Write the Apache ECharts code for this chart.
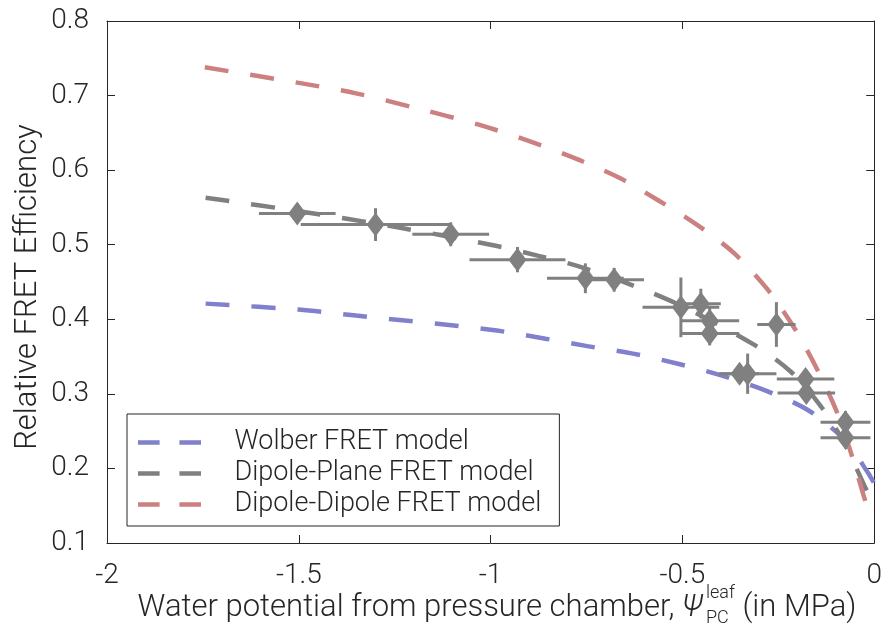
<!DOCTYPE html>
<html>
<head>
<meta charset="utf-8">
<script src="https://cdn.jsdelivr.net/npm/echarts@6/dist/echarts.min.js"></script>
<style>
  html, body { margin: 0; padding: 0; background: #fff; }
  #chart { width: 885px; height: 631px; }
</style>
</head>
<body>
<div id="chart"></div>
<script>
// model curves
const wolberX = [-1.743, -1.5, -1.351, -1.0, -0.857, -0.748, -0.629, -0.509, -0.395, -0.281, -0.169, -0.075, -0.016, 0];
const wolberY = [0.421, 0.413, 0.405, 0.386, 0.374, 0.364, 0.354, 0.340, 0.324, 0.304, 0.277, 0.237, 0.194, 0.180];

const planeX = [-1.743, -1.5, -1.25, -1.0, -0.875, -0.758, -0.532, -0.317, -0.218, -0.14, -0.08, -0.023, -0.005];
const planeY = [0.563, 0.545, 0.524, 0.500, 0.485, 0.469, 0.425, 0.367, 0.330, 0.284, 0.236, 0.174, 0.155];

const dipoleX = [-1.745, -1.5, -1.351, -1.2, -1.031, -0.888, -0.771, -0.662, -0.558, -0.457, -0.364, -0.278, -0.208, -0.148, -0.096, -0.057, -0.023, -0.010];
const dipoleY = [0.738, 0.717, 0.703, 0.684, 0.661, 0.637, 0.614, 0.589, 0.558, 0.525, 0.488, 0.440, 0.388, 0.332, 0.274, 0.215, 0.156, 0.139];

// measured points with error bars
const ptX    = [-1.504, -1.30, -1.104, -0.930, -0.753, -0.678, -0.504, -0.452, -0.429, -0.429, -0.255, -0.351, -0.330, -0.179, -0.177, -0.075, -0.075];
const ptY    = [0.542, 0.527, 0.514, 0.480, 0.455, 0.453, 0.416, 0.421, 0.398, 0.381, 0.393, 0.327, 0.327, 0.320, 0.301, 0.262, 0.241];
const ptXErr = [0.10, 0.195, 0.10, 0.125, 0.10, 0.078, 0.10, 0.052, 0.077, 0.077, 0.05, 0.05, 0.075, 0.075, 0.075, 0.065, 0.065];
const ptYErr = [0.012, 0.022, 0.016, 0.017, 0.020, 0.016, 0.040, 0.020, 0.020, 0.016, 0.030, 0.010, 0.027, 0.013, 0.010, 0.015, 0.012];

const seriesNames = ['Wolber FRET model', 'Dipole-Plane FRET model', 'Dipole-Dipole FRET model'];
const xTickLabels = ['-2', '-1.5', '-1', '-0.5', '0'];
const yTickLabels = ['0.1', '0.2', '0.3', '0.4', '0.5', '0.6', '0.7', '0.8'];

const FONT = 'Roboto';
const TXT = '#262626';
const AX = '#262626';

const chart = echarts.init(document.getElementById('chart'));

const zip = (xs, ys) => xs.map((x, i) => [x, ys[i]]);

// measure text for the x title pieces
const ctx = document.createElement('canvas').getContext('2d');
function measure(str, size, style) {
  ctx.font = (style || '') + ' 300 ' + size + 'px ' + FONT;
  return ctx.measureText(str).width;
}
const t1 = 'Water potential from pressure chamber, ';
const t3 = ' (in MPa)';
const mainSize = 31, smallSize = 18;
const w1 = measure(t1, mainSize);
const wPsi = measure('\u03A8', mainSize, 'italic');
const wSmall = Math.max(measure('leaf', smallSize), measure('PC', smallSize));
const w3 = measure(t3, mainSize);
const total = w1 + wPsi + 3 + wSmall + w3;
const x0 = 497 - total / 2;
const titleY = 608;

const lineSeries = (name, xs, ys, color) => ({
  name: name,
  type: 'line',
  data: zip(xs, ys),
  symbol: 'none',
  smooth: 0.3,
  lineStyle: { color: color, width: 4.5, type: [24, 22] },
  itemStyle: { color: color },
  z: 2
});

const txt = (text, x, y, size, extra, rotation) => ({
  type: 'text', x: x, y: y, rotation: rotation || 0,
  style: Object.assign({ text: text, fontSize: size, fontFamily: FONT, fontWeight: 300, fill: TXT, align: 'left', verticalAlign: 'middle' }, extra || {})
});

const option = {
  animation: false,
  grid: { left: 107, right: 10, top: 21, bottom: 88 },
  xAxis: [{
    type: 'value', min: -2, max: 0, interval: 0.5, position: 'bottom',
    axisLine: { show: true, onZero: false, lineStyle: { color: AX, width: 1 } },
    axisTick: { show: true, inside: true, length: 8, lineStyle: { color: AX } },
    axisLabel: {
      fontSize: 28, fontFamily: FONT, fontWeight: 300, color: TXT, margin: 19,
      formatter: v => xTickLabels[Math.round((v + 2) / 0.5)]
    },
    splitLine: { show: false }
  }, {
    type: 'value', min: -2, max: 0, interval: 0.5, position: 'top',
    axisLine: { show: true, onZero: false, lineStyle: { color: AX, width: 1 } },
    axisTick: { show: true, inside: true, length: 8, lineStyle: { color: AX } },
    axisLabel: { show: false },
    splitLine: { show: false }
  }],
  yAxis: [{
    type: 'value', min: 0.1, max: 0.8, interval: 0.1, position: 'left',
    axisLine: { show: true, onZero: false, lineStyle: { color: AX, width: 1 } },
    axisTick: { show: true, inside: true, length: 8, lineStyle: { color: AX } },
    axisLabel: {
      fontSize: 28, fontFamily: FONT, fontWeight: 300, color: TXT, margin: 18,
      formatter: v => yTickLabels[Math.round((v - 0.1) / 0.1)]
    },
    splitLine: { show: false }
  }, {
    type: 'value', min: 0.1, max: 0.8, interval: 0.1, position: 'right',
    axisLine: { show: true, onZero: false, lineStyle: { color: AX, width: 1 } },
    axisTick: { show: true, inside: true, length: 8, lineStyle: { color: AX } },
    axisLabel: { show: false },
    splitLine: { show: false }
  }],
  legend: {
    data: seriesNames,
    orient: 'vertical', left: 127, top: 414,
    icon: 'path://M0,0H24V5H0Z M46,0H70V5H46Z',
    itemWidth: 70, itemHeight: 4.5, itemGap: 4,
    padding: [15, 18, 8, 11],
    borderColor: AX, borderWidth: 1, backgroundColor: '#fff',
    textStyle: { fontSize: 27, fontFamily: FONT, fontWeight: 300, color: TXT, padding: [0, 0, 0, 25] },
    selectedMode: false
  },
  graphic: [
    txt('Relative FRET Efficiency', 28, 287, mainSize, { align: 'center' }, Math.PI / 2),
    txt(t1, x0, titleY, mainSize),
    txt('\u03A8', x0 + w1, titleY, mainSize, { fontStyle: 'italic' }),
    txt('leaf', x0 + w1 + wPsi + 3, titleY - 15, smallSize),
    txt('PC', x0 + w1 + wPsi + 3, titleY + 10, smallSize),
    txt(t3, x0 + w1 + wPsi + 3 + wSmall, titleY, mainSize)
  ],
  series: [
    lineSeries(seriesNames[0], wolberX, wolberY, '#8080cc'),
    lineSeries(seriesNames[1], planeX, planeY, '#808080'),
    lineSeries(seriesNames[2], dipoleX, dipoleY, '#cc8080'),
    {
      type: 'custom',
      data: ptX.map((x, i) => [x, ptY[i], ptXErr[i], ptYErr[i]]),
      encode: { x: 0, y: 1 },
      z: 3,
      renderItem: function (params, api) {
        const x = api.value(0), y = api.value(1), xe = api.value(2), ye = api.value(3);
        const l = api.coord([x - xe, y]), r = api.coord([x + xe, y]);
        const t = api.coord([x, y + ye]), b = api.coord([x, y - ye]);
        const style = { stroke: '#808080', lineWidth: 3 };
        return {
          type: 'group',
          children: [
            { type: 'line', shape: { x1: l[0], y1: l[1], x2: r[0], y2: r[1] }, style: style },
            { type: 'line', shape: { x1: t[0], y1: t[1], x2: b[0], y2: b[1] }, style: style }
          ]
        };
      }
    },
    {
      type: 'scatter',
      data: zip(ptX, ptY),
      symbol: 'diamond',
      symbolSize: [18, 24],
      itemStyle: { color: '#808080', opacity: 1 },
      z: 4
    }
  ]
};

chart.setOption(option);
</script>
</body>
</html>
